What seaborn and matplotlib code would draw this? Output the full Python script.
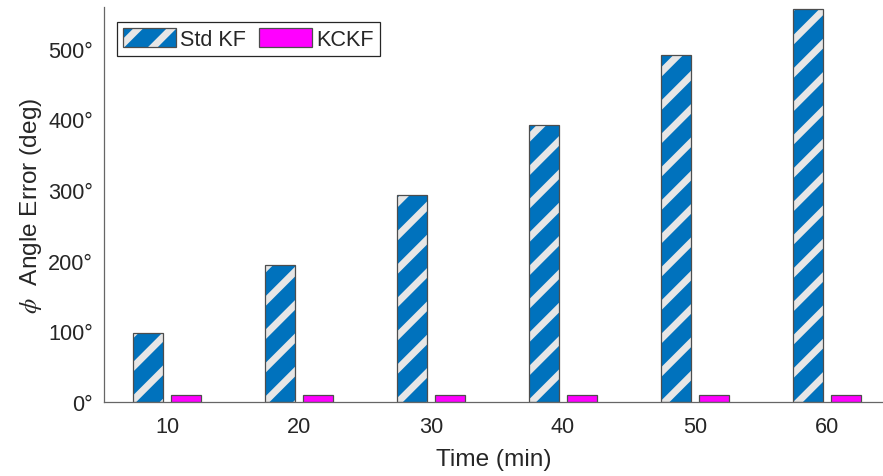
import matplotlib
matplotlib.use("Agg")
import matplotlib.pyplot as plt
import seaborn as sns
import pandas as pd
from matplotlib.colors import to_rgba
from matplotlib.patches import Patch

# ---- data ----
times = [10, 20, 30, 40, 50, 60]
std_kf = [98, 194, 293, 392, 491, 556]
kckf = [10, 10, 10, 10, 10, 10]
series_names = ["Std KF", "KCKF"]
yticks = [0, 100, 200, 300, 400, 500]
ytick_labels = [f"{v}\u00b0" for v in yticks]

df = pd.DataFrame({
    "Time": times * 2,
    "Error": std_kf + kckf,
    "Method": [series_names[0]] * len(times) + [series_names[1]] * len(kckf),
})

sns.set_theme(style="white")
plt.rcParams["font.family"] = ["Liberation Sans", "DejaVu Sans"]
plt.rcParams["mathtext.fontset"] = "stix"
plt.rcParams["hatch.linewidth"] = 2.5

DPI = 200
fig = plt.figure(figsize=(883 / DPI, 477 / DPI), dpi=DPI)
ax = fig.add_axes([104 / 883, (477 - 403) / 477, (883 - 104) / 883, (403 - 8) / 477])

blue = "#0072BD"
magenta = "#FF00FF"
edge = "#4D4D4D"
stripe = "#E6E6E6"
HATCH = "//"

sns.barplot(data=df, x="Time", y="Error", hue="Method",
            palette=[blue, magenta], width=0.576, gap=0.21,
            edgecolor=edge, linewidth=0.45, saturation=1,
            ax=ax, legend=False)

for p in ax.containers[0]:
    p.set_hatch(HATCH)
    p._hatch_color = to_rgba(stripe)

ax.set_xlim(-0.477, 5.424)
ax.set_ylim(0, 559)
ax.set_yticks(yticks)
ax.set_yticklabels(ytick_labels)
ax.set_xticks(range(len(times)))
ax.set_xticklabels([str(t) for t in times])

txt = "#262626"
ax.tick_params(axis="both", direction="in", length=2.9, width=0.45,
               color="#666666", labelsize=7.8, labelcolor=txt)
ax.tick_params(axis="x", pad=5.0)
ax.tick_params(axis="y", pad=4.0)

for s in ["top", "right"]:
    ax.spines[s].set_visible(False)
for s in ["left", "bottom"]:
    ax.spines[s].set_color("#666666")
    ax.spines[s].set_linewidth(0.45)

ax.set_xlabel("Time (min)", fontsize=8.8, color=txt, labelpad=4.0)
ax.set_ylabel(r"$\phi$  Angle Error (deg)", fontsize=8.8, color=txt, labelpad=1.5)

h1 = Patch(facecolor=blue, edgecolor=edge, linewidth=0.45, hatch=HATCH)
h1._hatch_color = to_rgba(stripe)
h2 = Patch(facecolor=magenta, edgecolor=edge, linewidth=0.45)
leg = ax.legend([h1, h2], series_names, loc="upper left",
                bbox_to_anchor=(0.0167, 0.962), ncol=2, fontsize=7.8,
                frameon=True, fancybox=False, framealpha=1, edgecolor="#262626",
                handlelength=2.45, handleheight=0.97, handletextpad=0.19,
                columnspacing=0.6, borderpad=0.28, borderaxespad=0.0)
leg.get_frame().set_linewidth(0.45)
for t in leg.get_texts():
    t.set_color(txt)

fig.savefig("out.png", dpi=DPI)
